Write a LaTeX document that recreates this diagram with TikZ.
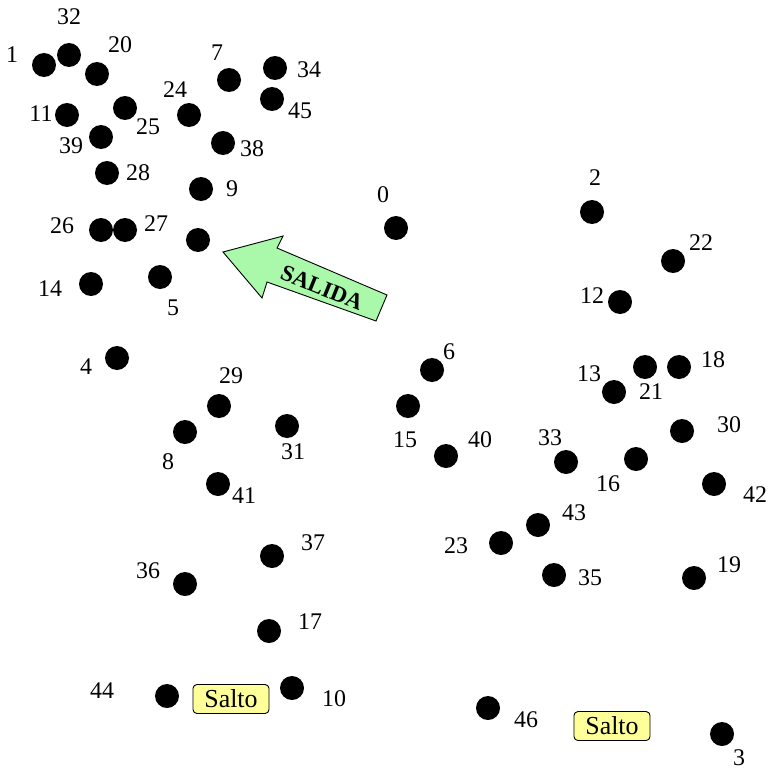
\documentclass[tikz,border=0pt]{standalone}
\usepackage{fontspec}
\setmainfont{Liberation Serif}
\definecolor{arrowgreen}{HTML}{AAF8AA}
\definecolor{saltoyellow}{HTML}{FFFF99}
\begin{document}
\begin{tikzpicture}[x=1bp,y=1bp,
  dot/.style={circle,fill=black,minimum size=24bp,inner sep=0pt},
  lbl/.style={font=\fontsize{24}{24}\selectfont,inner sep=0pt},
  salto/.style={draw=black,fill=saltoyellow,rounded corners=4bp,line width=0.9bp,minimum width=76bp,minimum height=29bp,inner sep=0pt,font=\fontsize{26}{26}\selectfont}]
\useasboundingbox (0,0) rectangle (769,-771);
% dots and labels
\foreach \n/\x/\y/\lx/\ly in {
 1/44/65/12/55, 32/69/55/69/17, 20/97/74/120/45, 7/229/80/217/53,
 34/275/68/309/70, 45/272/99/300/111, 11/67/115/41/114, 25/125/108/148/127,
 24/189/115/175/90, 39/101/137/71/146, 38/223/143/252/149, 28/107/173/138/173,
 9/201/189/232/189, 26/101/230/62/226, 27/125/230/156/224, 14/91/284/50/289,
 5/160/277/173/308, 0/396/228/383/195, 2/592/212/595/178, 22/673/261/701/243,
 12/620/302/592/296, 6/432/370/449/352, 13/614/392/589/374, 21/645/367/651/392,
 18/679/367/713/360, 4/117/358/86/367, 29/219/406/231/376, 8/185/432/168/462,
 31/287/426/293/452, 15/408/406/405/440, 40/446/456/480/440, 33/566/462/550/438,
 16/636/459/608/484, 30/682/431/729/425, 42/714/484/755/495, 41/218/484/244/496,
 43/538/525/574/513, 23/501/543/456/546, 35/554/575/590/578, 19/694/578/729/565,
 37/272/556/313/543, 36/185/584/148/571, 17/269/631/310/622, 44/167/696/102/691,
 10/292/688/334/699, 46/488/708/526/720, 3/722/734/739/758}{
  \node[dot] (d\n) at (\x,-\y) {};
  \node[lbl] (l\n) at (\lx,-\ly) {\n};
}
\node[dot] (dx) at (198,-240) {};
% Salto boxes
\node[salto] (s1) at (231,-699) {Salto};
\node[salto] (s2) at (612,-726) {Salto};
% SALIDA arrow
\coordinate (tip) at (223,-252);
\coordinate (hu) at (283,-236);
\coordinate (su) at (277,-248);
\coordinate (eu) at (387,-295);
\coordinate (el) at (376,-321);
\coordinate (sl) at (267,-282);
\coordinate (hl) at (262,-298);
\draw[fill=arrowgreen,line width=0.9bp,line join=miter] (tip) -- (hu) -- (su) -- (eu) -- (el) -- (sl) -- (hl) -- cycle;
\node[font=\fontsize{23}{23}\selectfont\bfseries,rotate=-22,inner sep=0pt] (salida) at (322,-288) {SALIDA};
\end{tikzpicture}
\end{document}
